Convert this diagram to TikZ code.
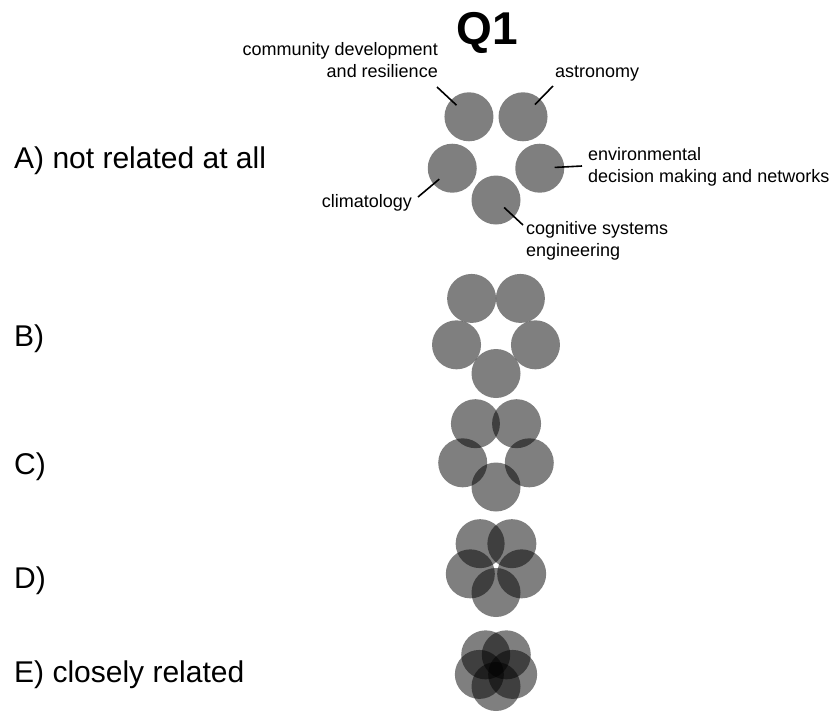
\documentclass[tikz,border=0pt]{standalone}
\usepackage{fontspec}
\setmainfont{Liberation Sans}
\usetikzlibrary{calc}
\begin{document}
\begin{tikzpicture}[x=1pt,y=-1pt,
  blob/.style={circle, minimum size=49pt, inner sep=0pt, fill=black, fill opacity=0.5, draw=none},
  conn/.style={draw=black, line width=1.6pt},
  lbl/.style={font=\fontsize{18}{22}\selectfont, inner sep=0pt, text=black},
  rowlbl/.style={font=\fontsize{30}{36}\selectfont, inner sep=0pt, anchor=base west},
  ttl/.style={font=\fontsize{46}{50}\selectfont\bfseries, inner sep=0pt}]
\useasboundingbox[fill=white] (0,0) rectangle (831,713);

% title
\node[ttl, anchor=north] (title) at (487,12) {Q1};

% circle groups
\foreach \g/\cy/\R in {A/154/46, B/332/41.5, C/452/35, D/565.5/27, E/669/17.5} {
  \foreach \i/\a in {1/234, 2/306, 3/162, 4/18, 5/90} {
    \node[blob] (\g\i) at ($(496,\cy)+(\a:\R)$) {};
  }
}

% row labels
\node[rowlbl] (rA) at (14,168) {A) not related at all};
\node[rowlbl] (rB) at (14,346) {B)};
\node[rowlbl] (rC) at (14,474) {C)};
\node[rowlbl] (rD) at (14,588) {D)};
\node[rowlbl] (rE) at (14,682) {E) closely related};

% topic labels (base = baseline of last line)
\node[lbl, align=right, anchor=base east] (tCD) at (438,77) {community development\\and resilience};
\node[lbl, anchor=base west] (tAS) at (555,77) {astronomy};
\node[lbl, align=left, anchor=base west] (tEN) at (588,182) {environmental\\decision making and networks};
\node[lbl, anchor=base east] (tCL) at (412,207) {climatology};
\node[lbl, align=left, anchor=base west] (tCO) at (526,256) {cognitive systems\\engineering};

% connector ends
\coordinate (eCD) at (437,87);
\coordinate (eAS) at (553,86);
\coordinate (eEN) at (582,166);
\coordinate (eCL) at (418,197);
\coordinate (eCO) at (523,225);

\draw[conn, shorten <=17pt] (A1.center) -- (eCD);
\draw[conn, shorten <=17pt] (A2.center) -- (eAS);
\draw[conn, shorten <=15pt] (A4.center) -- (eEN);
\draw[conn, shorten <=17pt] (A3.center) -- (eCL);
\draw[conn, shorten <=11pt] (A5.center) -- (eCO);
\end{tikzpicture}
\end{document}
